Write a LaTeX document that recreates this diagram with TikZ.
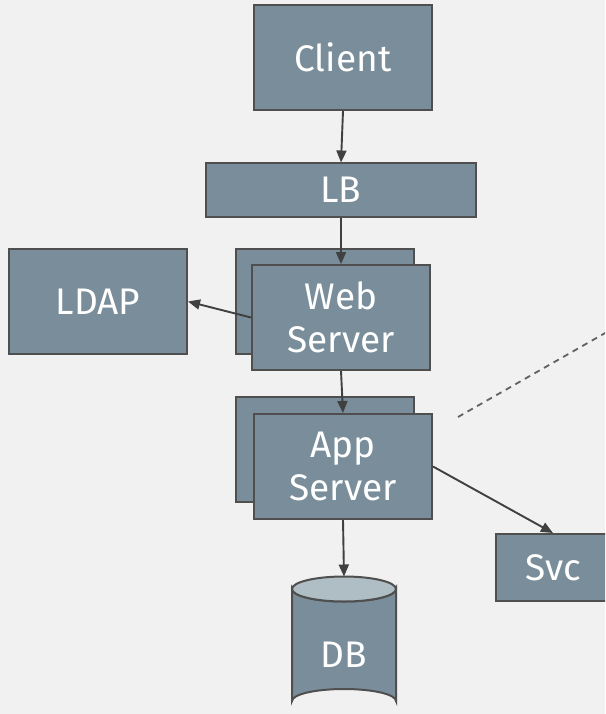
\documentclass[tikz,border=0pt]{standalone}
\usepackage{fontspec}
\setmainfont{Fira Sans}
\usetikzlibrary{arrows.meta}
\definecolor{bg}{HTML}{F1F1F1}
\definecolor{boxfill}{HTML}{798E9A}
\definecolor{boxline}{HTML}{4F4F4F}
\definecolor{dbtop}{HTML}{AFBDC4}
\definecolor{arrowc}{HTML}{404040}
\tikzset{
  svcbox/.style={draw=boxline, line width=2pt, fill=boxfill, text=white, inner sep=0pt,
    font=\fontsize{37}{43}\selectfont, align=center},
  conn/.style={draw=arrowc, line width=1.9pt, -{Triangle[length=12pt,width=10pt]}},
  dashconn/.style={draw=boxline!90, line width=1.8pt, dash pattern=on 6pt off 5pt}
}
\begin{document}
\begin{tikzpicture}[x=1pt,y=-1pt]
\fill[bg] (0,0) rectangle (605,714);
\useasboundingbox (0,0) rectangle (605,714);
\clip (0,0) rectangle (605,714);

\node[svcbox, minimum width=178pt, minimum height=105pt] (client) at (343,57.5) {Client};
\node[svcbox, minimum width=270pt, minimum height=53pt] (lb) at (341,190) {LB};
\node[svcbox, minimum width=178pt, minimum height=105pt] (ldap) at (98,301.5) {LDAP};

\node[svcbox, minimum width=178pt, minimum height=105pt] (webb) at (325,301.5) {};
\node[svcbox, minimum width=178pt, minimum height=105pt] (webf) at (341,317.5) {Web\\Server};

\node[svcbox, minimum width=178pt, minimum height=105pt] (appb) at (325,449.5) {};
\node[svcbox, minimum width=178pt, minimum height=105pt] (appf) at (343,466.5) {App\\Server};

\node[svcbox, minimum width=114pt, minimum height=67pt] (svc) at (553,567.5) {Svc};

% DB cylinder
\path[draw=boxline, line width=2pt, fill=boxfill]
  (292,589) -- (292,701) arc[start angle=180, end angle=360, x radius=52, y radius=12]
  -- (396,589) arc[start angle=0, end angle=180, x radius=52, y radius=12.5] -- cycle;
\path[draw=boxline, line width=2pt, fill=dbtop] (344,589) ellipse[x radius=52, y radius=12.5];
\node[text=white, font=\fontsize{37}{43}\selectfont] (db) at (344,655) {DB};
\coordinate (dbtopc) at (344,576.5);

\draw[conn] (client.south) -- (lb.north);
\draw[conn] (lb.south) -- (webf.north);
\draw[conn] (webf.west) -- (ldap.east);
\draw[conn] (webf.south) -- (appf.north);
\draw[conn] (appf.east) -- (svc.north);
\draw[conn] (appf.south) -- (dbtopc);

\coordinate (dashs) at (458,417);
\coordinate (dashe) at (680,290.3);
\draw[dashconn] (dashs) -- (dashe);
\end{tikzpicture}
\end{document}
